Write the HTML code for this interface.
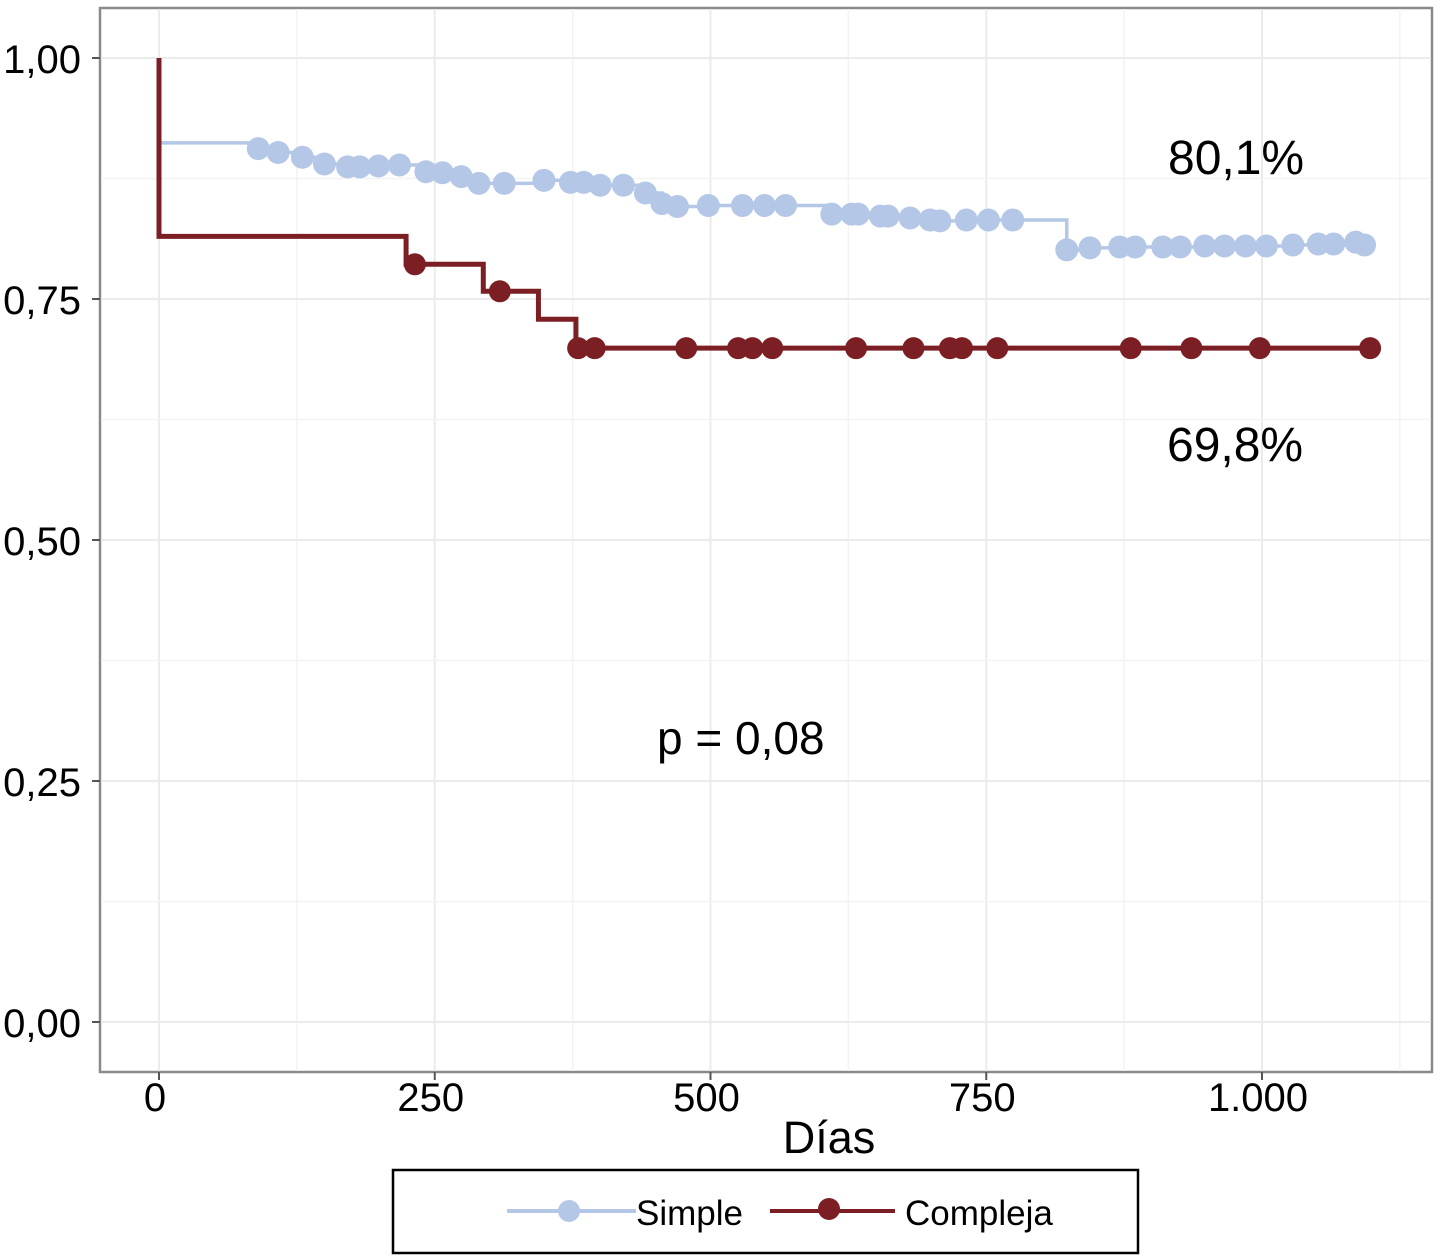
<!DOCTYPE html>
<html><head><meta charset="utf-8"><style>
html,body{margin:0;padding:0;background:#fff;}
svg{display:block;font-family:"Liberation Sans",sans-serif;}
</style></head><body>
<svg id="chart" width="1440" height="1260" viewBox="0 0 1440 1260">
<rect x="100" y="8" width="1332" height="1064" fill="#fff" stroke="#8a8a8a" stroke-width="2.5"/>
<g id="grid"></g>
<g id="axes"></g>
<g id="series"></g>
<text x="1168" y="174" font-size="48" fill="#000">80,1%</text>
<text x="1167" y="461" font-size="48" fill="#000">69,8%</text>
<text x="657" y="754" font-size="46" fill="#000">p = 0,08</text>
<text x="829" y="1153" font-size="45" text-anchor="middle" fill="#000">Días</text>
<g>
<rect x="393" y="1170" width="745" height="83" fill="#fff" stroke="#000" stroke-width="2.5"/>
<g>
<line x1="507" y1="1211" x2="636" y2="1211" stroke="#b4c7e7" stroke-width="4"/>
<circle cx="569" cy="1211" r="11" fill="#b4c7e7"/>
<text x="636" y="1225" font-size="35" fill="#000">Simple</text>
</g>
<g>
<line x1="770" y1="1211" x2="895" y2="1211" stroke="#7b1f24" stroke-width="4"/>
<circle cx="829" cy="1209" r="11" fill="#7b1f24"/>
<text x="905" y="1225" font-size="35" fill="#000">Compleja</text>
</g>
</g>
</svg>
<script>
const xTicks = [0, 250, 500, 750, 1000];
const xTickLabels = ["0", "250", "500", "750", "1.000"];
const yTicks = [0, 0.25, 0.5, 0.75, 1];
const yTickLabels = ["0,00", "0,25", "0,50", "0,75", "1,00"];
const simpleStart = 0.912;
const simpleCensorDays = [90,108,130,150,171,182,199,218,242,257,274,290,313,349,373,385,400,421,441,456,470,498,529,549,568,610,628,634,654,661,681,699,708,732,752,774,823,844,871,885,910,926,948,966,985,1004,1028,1051,1065,1085,1093];
const simpleCensorSurv = [0.906,0.902,0.897,0.890,0.887,0.887,0.888,0.889,0.882,0.881,0.877,0.870,0.870,0.873,0.871,0.871,0.868,0.868,0.860,0.849,0.846,0.847,0.847,0.847,0.847,0.838,0.838,0.838,0.836,0.836,0.834,0.832,0.831,0.832,0.832,0.832,0.801,0.803,0.804,0.804,0.804,0.804,0.805,0.805,0.805,0.805,0.806,0.807,0.807,0.809,0.806];
const complejaEventDays = [0, 224, 294, 344, 378];
const complejaEventSurv = [0.815, 0.786, 0.758, 0.729, 0.699];
const complejaCensorDays = [232,309,380,395,478,525,538,556,632,684,717,728,760,881,936,998,1098];
const complejaEnd = 1098;

const X = d => 159 + d * 1.103;
const Y = s => 1022 - s * 964;
const NS = "http://www.w3.org/2000/svg";
function mk(tag, attrs, parent){const e=document.createElementNS(NS,tag);for(const k in attrs)e.setAttribute(k,attrs[k]);parent.appendChild(e);return e;}
const grid=document.getElementById('grid'), axes=document.getElementById('axes'), ser=document.getElementById('series');

for(let i=0;i<xTicks.length;i++){
  const x=X(xTicks[i]);
  const g=mk('line',{x1:x,y1:9,x2:x,y2:1071,stroke:'#ebebeb','stroke-width':2},grid);
  
  
  const xm=X(xTicks[i]+125);
  if(xm<1431){const m=mk('line',{x1:xm,y1:9,x2:xm,y2:1071,stroke:'#f3f3f3','stroke-width':1.5},grid);
  
  }
  const t=mk('line',{x1:x,y1:1072,x2:x,y2:1080,stroke:'#555','stroke-width':2},axes);
  
  
  const l=mk('text',{x:x-4,y:1111,'font-size':40,'text-anchor':'middle',fill:'#000'},axes);
  l.textContent=xTickLabels[i];
  
  
}
for(let i=0;i<yTicks.length;i++){
  const y=Y(yTicks[i]);
  const g=mk('line',{x1:101,y1:y,x2:1431,y2:y,stroke:'#ebebeb','stroke-width':2},grid);
  
  
  if(i<yTicks.length-1){const ym=Y(yTicks[i]+0.125);
  const m=mk('line',{x1:101,y1:ym,x2:1431,y2:ym,stroke:'#f3f3f3','stroke-width':1.5},grid);
  
  }
  const t=mk('line',{x1:92,y1:y,x2:100,y2:y,stroke:'#555','stroke-width':2},axes);
  
  
  const l=mk('text',{x:81,y:y+15,'font-size':40,'text-anchor':'end',fill:'#000'},axes);
  l.textContent=yTickLabels[i];
  
  
}

let d=`M${X(0)},${Y(1)} L${X(0)},${Y(simpleStart)}`;
let prev=simpleStart;
for(let i=0;i<simpleCensorDays.length;i++){
  const x=X(simpleCensorDays[i]);
  d+=` L${x},${Y(prev)} L${x},${Y(simpleCensorSurv[i])}`;
  prev=simpleCensorSurv[i];
}
const sp=mk('path',{d:d,fill:'none',stroke:'#b4c7e7','stroke-width':3.5},ser);


for(let i=0;i<simpleCensorDays.length;i++){
  const c=mk('circle',{cx:X(simpleCensorDays[i]),cy:Y(simpleCensorSurv[i]),r:11.5,fill:'#b4c7e7'},ser);
  
  
}

function cSurv(day){let s=1;for(let i=0;i<complejaEventDays.length;i++){if(day>=complejaEventDays[i])s=complejaEventSurv[i];}return s;}
let d2=`M${X(0)},${Y(1)}`;
let p2=1;
for(let i=0;i<complejaEventDays.length;i++){
  const x=X(complejaEventDays[i]);
  d2+=` L${x},${Y(p2)} L${x},${Y(complejaEventSurv[i])}`;
  p2=complejaEventSurv[i];
}
d2+=` L${X(complejaEnd)},${Y(p2)}`;
const cp=mk('path',{d:d2,fill:'none',stroke:'#7b1f24','stroke-width':5},ser);


for(let i=0;i<complejaCensorDays.length;i++){
  const c=mk('circle',{cx:X(complejaCensorDays[i]),cy:Y(cSurv(complejaCensorDays[i])),r:11,fill:'#7b1f24'},ser);
  
  
}
</script>
</body></html>
